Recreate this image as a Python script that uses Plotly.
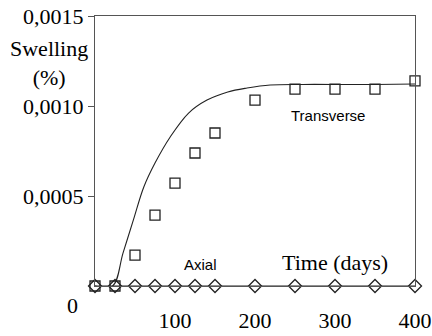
import plotly.graph_objects as go

# Measured data (days, swelling %)
days = [0, 25, 50, 75, 100, 125, 150, 200, 250, 300, 350, 400]
transverse = [0.0, 0.0, 0.000172, 0.000394, 0.000572, 0.000739, 0.00085,
              0.001033, 0.001094, 0.001094, 0.001094, 0.00114]
axial = [0.0] * 12

# Model curve (transverse)
model_days = [0, 22, 35, 48, 61, 75, 94, 117, 140, 166, 190, 219, 260, 300, 350, 400]
model_vals = [0.0, 0.0, 0.000183, 0.000367, 0.00055, 0.000683, 0.000828, 0.000961,
              0.001033, 0.001078, 0.0011, 0.001117, 0.00112, 0.00112, 0.00112, 0.001122]

x_ticks = [100, 200, 300, 400]
y_ticks = [0.0005, 0.0010, 0.0015]
y_tick_text = ["0,0005", "0,0010", "0,0015"]

serif = "Liberation Serif"
sans = "Liberation Sans"

fig = go.Figure()
fig.add_trace(go.Scatter(x=model_days, y=model_vals, mode="lines",
                         line=dict(color="#222222", width=1.1, shape="spline"),
                         hoverinfo="skip", cliponaxis=False))
fig.add_trace(go.Scatter(x=days, y=axial, mode="lines+markers",
                         line=dict(color="#222222", width=1.1),
                         marker=dict(symbol="diamond-open", size=10,
                                     color="#222222", line=dict(width=1.3)),
                         cliponaxis=False))
fig.add_trace(go.Scatter(x=days, y=transverse, mode="markers",
                         marker=dict(symbol="square-open", size=10,
                                     color="#222222", line=dict(width=1.3)),
                         cliponaxis=False))

ann_font = dict(family=serif, size=22, color="black")
# paper coordinates: plot area spans 320 px wide, 270 px tall
fig.add_annotation(x=(49 - 95) / 320, y=(286 - 63) / 270, xref="paper", yref="paper",
                   xanchor="center", yanchor="middle",
                   showarrow=False, text="Swelling<br>(%)", font=ann_font, align="center")
fig.add_annotation(x=(72 - 95) / 320, y=(286 - 305) / 270, xref="paper", yref="paper",
                   xanchor="center", yanchor="middle",
                   showarrow=False, text="0", font=ann_font)
fig.add_annotation(x=300, y=0.000133, xref="x", yref="y", showarrow=False,
                   xanchor="center", yanchor="middle",
                   text="Time (days)", font=ann_font)
fig.add_annotation(x=291, y=0.00095, xref="x", yref="y", showarrow=False,
                   xanchor="center", yanchor="middle",
                   text="Transverse", font=dict(family=sans, size=15, color="black"))
fig.add_annotation(x=131.7, y=0.000122, xref="x", yref="y", showarrow=False,
                   xanchor="center", yanchor="middle",
                   text="Axial", font=dict(family=sans, size=15, color="black"))

fig.update_layout(
    width=432, height=336,
    margin=dict(l=95, r=17, t=16, b=50),
    plot_bgcolor="white", paper_bgcolor="white",
    showlegend=False,
    xaxis=dict(range=[0, 400], tickvals=x_ticks, ticks="", showgrid=False,
               zeroline=False, showline=True, mirror=True, linecolor="#555555",
               linewidth=1, tickfont=dict(family=serif, size=22, color="black"),
               ticklabelstandoff=15, automargin=False, ticklabeloverflow="allow"),
    yaxis=dict(range=[0, 0.0015002], tickvals=y_ticks, ticktext=y_tick_text,
               ticks="outside", ticklen=6, tickcolor="#555555", showgrid=False,
               zeroline=False, showline=True, mirror=True, linecolor="#555555",
               linewidth=1, tickfont=dict(family=serif, size=22, color="black"),
               ticklabelstandoff=0, automargin=False, ticklabeloverflow="allow"),
)

fig.write_html("out.html", config={"displayModeBar": False},
               post_script="document.body.style.margin='0';document.body.style.overflow='hidden';")
